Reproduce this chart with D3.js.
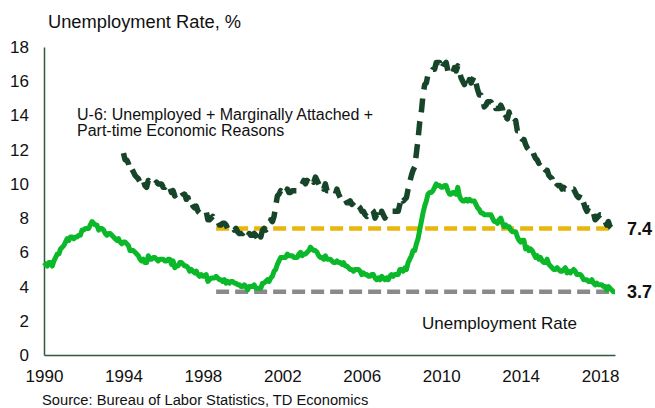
<!DOCTYPE html>
<html>
<head>
<meta charset="utf-8">
<script src="https://cdn.jsdelivr.net/npm/d3@7"></script>
<style>
  html, body { margin: 0; padding: 0; background: #fff; }
  svg { display: block; font-family: "Liberation Sans", Arial, sans-serif; }
</style>
</head>
<body>
<svg id="chart" width="655" height="408"></svg>
<script>
// Monthly, seasonally adjusted, % (BLS). Unemployment rate from Jan 1990.
const urStartYear = 1990;
const unemploymentRate = [
  5.4,5.3,5.2,5.4,5.4,5.2,5.5,5.7,5.9,5.9,6.2,6.3,
  6.4,6.6,6.8,6.7,6.9,6.9,6.8,6.9,6.9,7.0,7.0,7.3,
  7.3,7.4,7.4,7.4,7.6,7.8,7.7,7.6,7.6,7.3,7.4,7.4,
  7.3,7.1,7.0,7.1,7.1,7.0,6.9,6.8,6.7,6.8,6.6,6.5,
  6.6,6.6,6.5,6.4,6.1,6.1,6.1,6.0,5.9,5.8,5.6,5.5,
  5.6,5.4,5.4,5.8,5.6,5.6,5.7,5.7,5.6,5.5,5.6,5.6,
  5.6,5.5,5.5,5.6,5.6,5.3,5.5,5.1,5.2,5.2,5.4,5.4,
  5.3,5.2,5.2,5.1,4.9,5.0,4.9,4.8,4.9,4.7,4.6,4.7,
  4.6,4.6,4.7,4.3,4.4,4.5,4.5,4.5,4.6,4.5,4.4,4.4,
  4.3,4.4,4.2,4.3,4.2,4.3,4.3,4.2,4.2,4.1,4.1,4.0,
  4.0,4.1,4.0,3.8,4.0,4.0,4.0,4.1,3.9,3.9,3.9,3.9,
  4.2,4.2,4.3,4.4,4.3,4.5,4.6,4.9,5.0,5.3,5.5,5.7,
  5.7,5.7,5.7,5.9,5.8,5.8,5.8,5.7,5.7,5.7,5.9,6.0,
  5.8,5.9,5.9,6.0,6.1,6.3,6.2,6.1,6.1,6.0,5.8,5.7,
  5.7,5.6,5.8,5.6,5.6,5.6,5.5,5.4,5.4,5.5,5.4,5.4,
  5.3,5.4,5.2,5.2,5.1,5.0,5.0,4.9,5.0,5.0,5.0,4.9,
  4.7,4.8,4.7,4.7,4.6,4.6,4.7,4.7,4.5,4.4,4.5,4.4,
  4.6,4.5,4.4,4.5,4.4,4.6,4.7,4.6,4.7,4.7,4.7,5.0,
  5.0,4.9,5.1,5.0,5.4,5.6,5.8,6.1,6.1,6.5,6.8,7.3,
  7.8,8.3,8.7,9.0,9.4,9.5,9.5,9.6,9.8,10.0,9.9,9.9,
  9.8,9.8,9.9,9.9,9.6,9.4,9.4,9.5,9.5,9.4,9.8,9.3,
  9.1,9.0,9.0,9.1,9.0,9.1,9.0,9.0,9.0,8.8,8.6,8.5,
  8.3,8.3,8.2,8.2,8.2,8.2,8.2,8.0,7.8,7.8,7.7,7.9,
  8.0,7.7,7.5,7.6,7.5,7.5,7.3,7.2,7.2,7.2,6.9,6.7,
  6.6,6.7,6.7,6.2,6.3,6.1,6.2,6.1,5.9,5.7,5.8,5.6,
  5.7,5.5,5.4,5.4,5.6,5.3,5.2,5.1,5.0,5.0,5.1,5.0,
  4.9,4.9,5.0,5.1,4.8,4.9,4.8,4.9,5.0,4.9,4.7,4.7,
  4.7,4.6,4.4,4.4,4.4,4.3,4.3,4.4,4.2,4.1,4.2,4.1,
  4.1,4.1,4.0,4.0,3.8,4.0,3.9,3.8,3.7,3.7
];

// U-6 measure from Jan 1994.
const u6StartYear = 1994;
const u6Rate = [
  11.8,11.4,11.4,11.2,10.8,10.9,10.7,10.5,10.4,10.3,10.1,10.0,
  10.2,9.9,9.8,10.2,10.1,10.2,10.1,10.0,10.1,10.0,10.0,10.0,
  9.8,9.8,9.9,9.7,9.8,9.5,9.6,9.3,9.4,9.4,9.4,9.6,
  9.4,9.4,9.1,9.2,8.8,8.9,8.7,8.6,8.7,8.4,8.3,8.4,
  8.4,8.4,8.4,7.9,7.9,8.0,8.1,7.9,7.8,7.8,7.6,7.6,
  7.7,7.7,7.6,7.4,7.5,7.5,7.5,7.3,7.4,7.2,7.1,7.1,
  7.1,7.2,7.1,6.9,7.1,7.0,7.0,7.1,7.0,6.8,7.1,6.9,
  7.3,7.4,7.3,7.4,7.5,7.9,7.8,8.1,8.7,9.3,9.4,9.6,
  9.5,9.5,9.4,9.7,9.5,9.5,9.6,9.6,9.6,9.6,9.7,9.8,
  10.0,10.2,10.0,10.2,10.1,10.3,10.3,10.1,10.4,10.2,10.0,9.8,
  9.9,9.7,10.0,9.6,9.6,9.5,9.5,9.4,9.4,9.7,9.4,9.2,
  9.3,9.3,9.1,8.9,8.9,9.0,8.8,8.9,9.0,8.7,8.7,8.6,
  8.4,8.4,8.2,8.1,8.2,8.4,8.5,8.4,8.0,8.2,8.1,7.9,
  8.4,8.2,8.0,8.2,8.2,8.3,8.4,8.4,8.4,8.4,8.4,8.8,
  9.2,9.0,9.1,9.2,9.7,10.1,10.5,10.8,11.0,11.8,12.6,13.6,
  14.2,15.2,15.8,15.9,16.4,16.5,16.5,16.7,16.7,17.1,17.1,17.1,
  16.7,16.9,17.0,17.1,16.6,16.4,16.4,16.5,16.8,16.6,16.9,16.6,
  16.2,16.0,15.8,16.1,15.8,16.1,15.9,16.1,16.3,15.9,15.5,15.2,
  15.2,15.0,14.5,14.6,14.8,14.8,14.8,14.6,14.7,14.4,14.4,14.4,
  14.6,14.4,13.8,13.9,13.8,14.2,13.8,13.6,13.6,13.7,13.1,13.1,
  12.7,12.6,12.6,12.3,12.1,12.0,12.1,12.0,11.7,11.5,11.4,11.2,
  11.3,11.0,10.9,10.8,10.8,10.5,10.4,10.3,10.0,9.8,9.9,9.9,
  9.9,9.7,9.8,9.7,9.7,9.6,9.7,9.7,9.7,9.5,9.3,9.2,
  9.4,9.2,8.9,8.6,8.4,8.6,8.6,8.6,8.3,7.9,8.0,8.1,
  8.2,8.2,8.0,7.8,7.6,7.8,7.5,7.4,7.5,7.4
];

// Latest readings, shown as reference levels back to late 1998.
const referenceStart = 1998 + 8 / 12;
const latestU6 = 7.4;
const latestUR = 3.7;

const yTicks = [0, 2, 4, 6, 8, 10, 12, 14, 16, 18];
const xTicks = [1990, 1994, 1998, 2002, 2006, 2010, 2014, 2018];

const toSeries = (values, startYear) =>
  values.map((v, i) => ({ t: startYear + i / 12, v }));

const urSeries = toSeries(unemploymentRate, urStartYear);
const u6Series = toSeries(u6Rate, u6StartYear);
const lastT = urSeries[urSeries.length - 1].t;

const svg = d3.select("#chart");

const x = d3.scaleLinear().domain([1990, lastT]).range([44, 615]);
const y = d3.scaleLinear().domain([0, 18]).range([355, 47]);

const axisColor = "#2f5a3c";
const font = "Liberation Sans, Arial, sans-serif";

// Title
svg.append("text")
  .attr("x", 48).attr("y", 28)
  .attr("font-size", 18.3).attr("fill", "#111")
  .text("Unemployment Rate, %");

// Y axis
const yAxis = svg.append("g")
  .attr("transform", `translate(${x(1990)},0)`)
  .call(d3.axisLeft(y).tickValues(yTicks).tickSize(0).tickPadding(15).tickFormat(d3.format("d")));
yAxis.select(".domain").attr("stroke", axisColor).attr("stroke-width", 1.5);
yAxis.selectAll("text").attr("font-size", 17).attr("fill", "#111").attr("font-family", font);

// X axis
const xAxis = svg.append("g")
  .attr("transform", `translate(0,${y(0)})`)
  .call(d3.axisBottom(x).tickValues(xTicks).tickSize(0).tickPadding(15).tickFormat(d3.format("d")));
xAxis.select(".domain").attr("stroke", axisColor).attr("stroke-width", 1.5);
xAxis.selectAll("text").attr("font-size", 17).attr("fill", "#111").attr("font-family", font);

// Reference levels
const refLine = (level, color) =>
  svg.append("line")
    .attr("x1", x(referenceStart)).attr("x2", x(lastT) - 4)
    .attr("y1", y(level)).attr("y2", y(level))
    .attr("stroke", color).attr("stroke-width", 4.5)
    .attr("stroke-dasharray", "13,6");

refLine(latestU6, "#e9b60d");
refLine(latestUR, "#8a8a8a");

const line = d3.line().x(d => x(d.t)).y(d => y(d.v));

// U-6
svg.append("path")
  .datum(u6Series)
  .attr("d", line)
  .attr("fill", "none")
  .attr("stroke", "#17452a")
  .attr("stroke-width", 5.5)
  .attr("stroke-linejoin", "round")
  .attr("stroke-dasharray", "14,9");

// Headline unemployment rate
svg.append("path")
  .datum(urSeries)
  .attr("d", line)
  .attr("fill", "none")
  .attr("stroke", "#0ab82a")
  .attr("stroke-width", 5)
  .attr("stroke-linejoin", "round");

// Value labels
const valueLabel = (level) =>
  svg.append("text")
    .attr("x", 627).attr("y", y(level) + 6.5)
    .attr("font-size", 18).attr("font-weight", "bold").attr("fill", "#111")
    .text(d3.format(".1f")(level));
valueLabel(latestU6);
valueLabel(latestUR);

// Series annotations
const u6Label = svg.append("text")
  .attr("x", 77).attr("y", 120)
  .attr("font-size", 16).attr("fill", "#111");
u6Label.append("tspan").attr("x", 77).attr("dy", 0)
  .text("U-6: Unemployed + Marginally Attached +");
u6Label.append("tspan").attr("x", 77).attr("dy", 15.5)
  .text("Part-time Economic Reasons");

svg.append("text")
  .attr("x", 422).attr("y", 329)
  .attr("font-size", 17).attr("fill", "#111")
  .text("Unemployment Rate");

// Source
svg.append("text")
  .attr("x", 42).attr("y", 405)
  .attr("font-size", 14.7).attr("fill", "#111")
  .text("Source: Bureau of Labor Statistics, TD Economics");
</script>
</body>
</html>
